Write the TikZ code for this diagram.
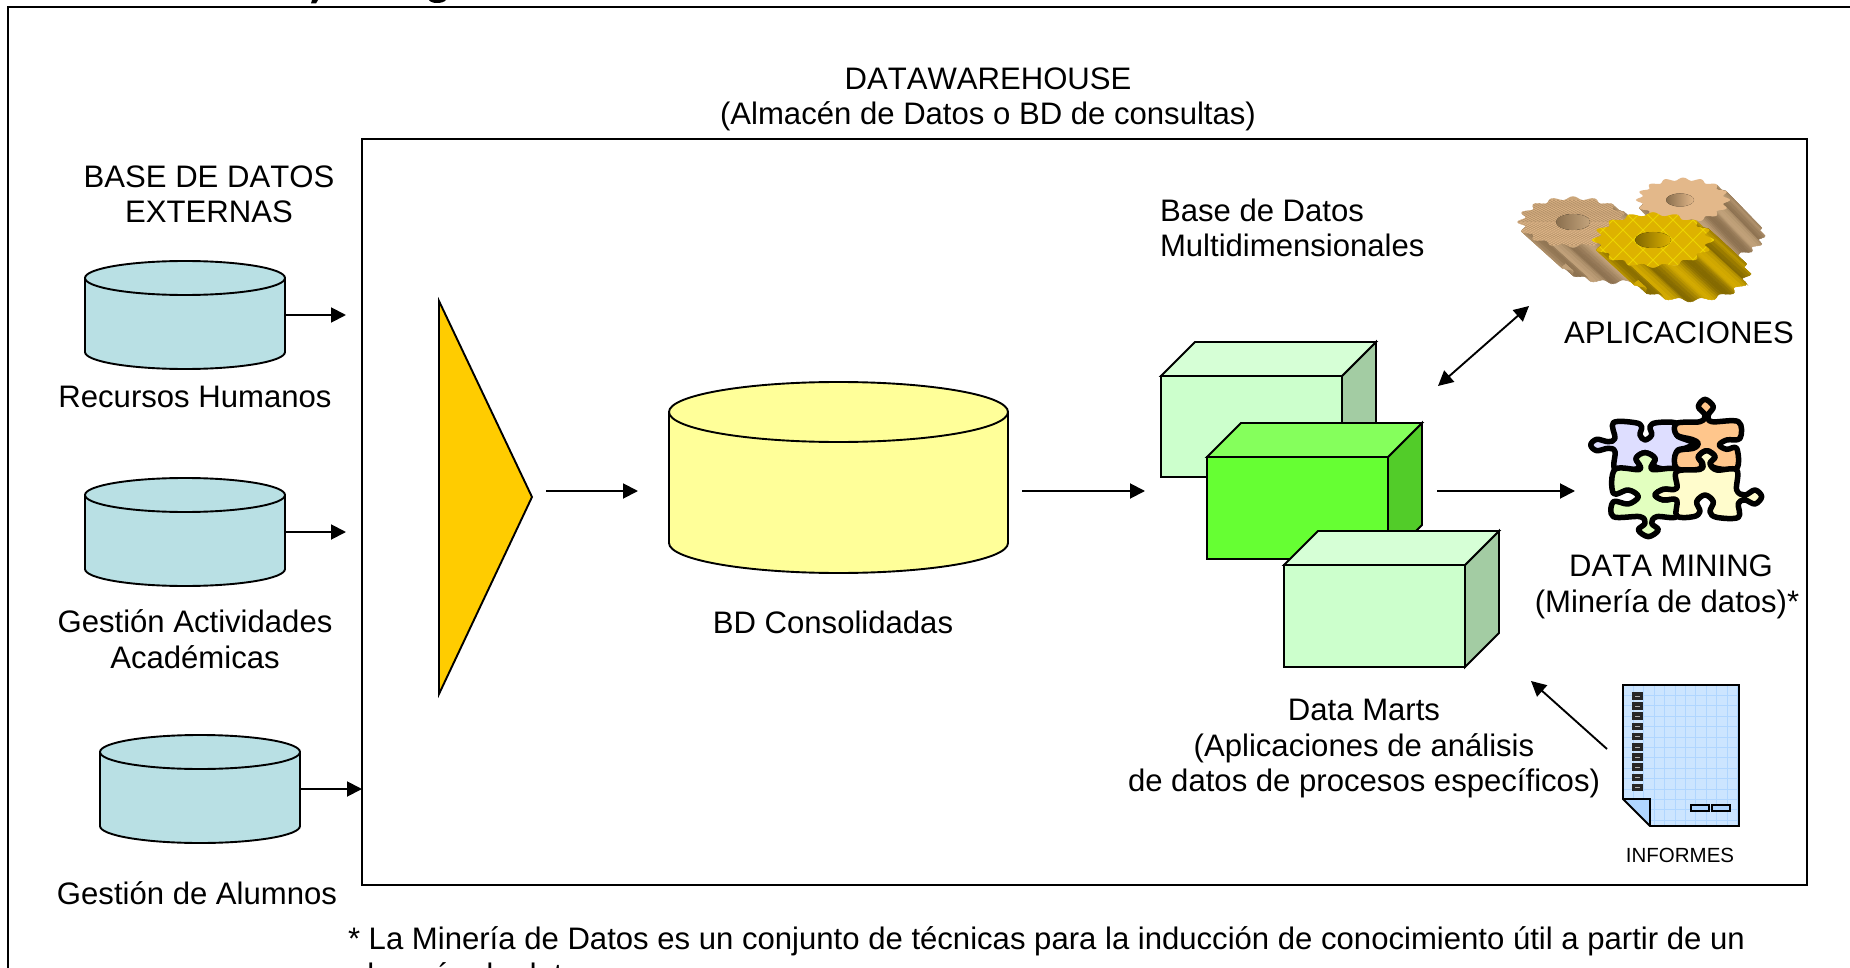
\documentclass[tikz,border=0pt]{standalone}
\usepackage{fontspec}
\setmainfont[Kerning=Off,Ligatures=NoCommon]{Liberation Sans}
\usetikzlibrary{arrows.meta}
\newcommand{\geardraw}[9]{%
 \foreach \t in {-42,-39,...,165}{%
  \pgfmathsetmacro\ra{1+0.07*cos(16*\t)}%
  \pgfmathsetmacro\rb{1+0.07*cos(16*(\t+3))}%
  \pgfmathsetmacro\mx{50+45*sin(8*\t+\t)}%
  \filldraw[draw=#8!\mx!#9,fill=#8!\mx!#9,line width=.5pt]
   ({#1+\ra*#3*cos(\t)},{#2+\ra*#4*sin(\t)}) --
   ({#1+\rb*#3*cos(\t+3)},{#2+\rb*#4*sin(\t+3)}) --
   ({#1+#5+\rb*#3*cos(\t+3)},{#2+#6+\rb*#4*sin(\t+3)}) --
   ({#1+#5+\ra*#3*cos(\t)},{#2+#6+\ra*#4*sin(\t)}) -- cycle;
 }%
 \fill[#7] plot[domain=0:360,samples=145] ({#1+(1+0.07*cos(16*\x))*#3*cos(\x)},{#2+(1+0.07*cos(16*\x))*#4*sin(\x)}) -- cycle;
}
% a drum drawn on the rectangle of node #1: half width #2, end height #3, colour #4
\newcommand{\drum}[4]{%
 \filldraw[line width=1.9pt,fill=#4]
  ([yshift=-#3pt]#1.north west) -- ([yshift=#3pt]#1.south west)
  arc (180:360:#2pt and #3pt) -- ([yshift=-#3pt]#1.north east)
  arc (0:180:#2pt and #3pt) -- cycle;
 \draw[line width=1.9pt] ([yshift=-#3pt]#1.north west) arc (180:360:#2pt and #3pt);
}
\tikzset{
 conn/.style={line width=1.9pt,black,-{Triangle[length=15pt,width=15pt]}},
 biconn/.style={line width=1.9pt,black,{Triangle[length=15pt,width=15pt]}-{Triangle[length=15pt,width=15pt]}},
 lbl/.style={inner sep=0pt,outer sep=0pt,anchor=base,font=\fontsize{31.1}{35}\selectfont},
 lblleft/.style={lbl,anchor=base west},
 smallcyl/.style={inner sep=0pt,outer sep=0pt,minimum width=200pt,minimum height=108pt},
 box/.style={line width=1.9pt,black,line join=miter},
 piece/.style={draw=black,line width=5.5pt,line join=round},
}
\definecolor{cylblue}{HTML}{B9E0E4}
\definecolor{cylyellow}{HTML}{FFFF99}
\definecolor{triang}{HTML}{FFCC00}
\definecolor{boxf}{HTML}{CCFFCC}
\definecolor{boxt}{HTML}{D6FFD6}
\definecolor{boxs}{HTML}{A3CCA3}
\definecolor{gboxf}{HTML}{66FF33}
\definecolor{gboxt}{HTML}{85FF5C}
\definecolor{gboxs}{HTML}{52CC29}
\definecolor{paper}{HTML}{CCE5FF}
\definecolor{papergrid}{HTML}{B0D6FF}
\definecolor{tanA}{HTML}{CBA67A}
\definecolor{tanB}{HTML}{E3B88A}
\definecolor{tanD}{HTML}{8A6F4E}
\definecolor{tanL}{HTML}{C4A47C}
\definecolor{goldF}{HTML}{DDB200}
\definecolor{goldD}{HTML}{806600}
\definecolor{goldL}{HTML}{D8AE00}
\begin{document}
\begin{tikzpicture}[x=1pt,y=-1pt]
\useasboundingbox (0,0) rectangle (1850,968);
\clip (0,0) rectangle (1850,968);
\fill[white] (0,0) rectangle (1850,968);
% cut-off remains of a title above the frame
\fill[black] (312,0) -- (318,0) -- (316,3.5) -- (311,3.5) -- cycle;
\fill[black] (429,0) .. controls (431,4) and (443,4) .. (446,0) -- cycle;
% frame
\draw[line width=2.2pt] (8,975) -- (8,7) -- (1860,7);
\node[draw=black,line width=2pt,inner sep=0pt,outer sep=0pt,minimum width=1445pt,minimum height=746pt] (dw) at (1084.5,512) {};
% external databases
\node[smallcyl] (c1) at (185,315) {};
\node[smallcyl] (c2) at (185,532) {};
\node[smallcyl] (c3) at (200,789) {};
\drum{c1}{100}{17}{cylblue}
\drum{c2}{100}{17}{cylblue}
\drum{c3}{100}{17}{cylblue}
\coordinate (t1) at (346,315);
\coordinate (t2) at (346,532);
\draw[conn] (c1.east) -- (t1);
\draw[conn] (c2.east) -- (t2);
\draw[conn] (c3.east) -- (dw.west |- c3.east);
% funnel
\draw[line width=1.9pt,fill=triang,line join=miter] (439,301) coordinate (fa) -- (532,497) coordinate (fb) -- (439,694) coordinate (fc) -- cycle;
% consolidated database
\node[inner sep=0pt,outer sep=0pt,minimum width=339pt,minimum height=191pt] (bd) at (838.5,477.5) {};
\drum{bd}{169.5}{30}{cylyellow}
\coordinate (a1) at (546,491);
\coordinate (a2) at (638,491);
\coordinate (a3) at (1022,491);
\coordinate (a4) at (1145,491);
\draw[conn] (a1) -- (a2);
\draw[conn] (a3) -- (a4);
% data marts
\foreach \l/\r/\tp/\b/\cf/\ct/\cs in {1161/1342/376/477/boxf/boxt/boxs,1207/1388/457/559/gboxf/gboxt/gboxs,1284/1465/565/667/boxf/boxt/boxs}{
 \filldraw[box,fill=\cs] (\r,\tp) -- (\r+34,\tp-34) -- (\r+34,\b-34) -- (\r,\b) -- cycle;
 \filldraw[box,fill=\ct] (\l,\tp) -- (\l+34,\tp-34) -- (\r+34,\tp-34) -- (\r,\tp) -- cycle;
 \filldraw[box,fill=\cf] (\l,\tp) rectangle (\r,\b);
}
\coordinate (b1) at (1437,491);
\coordinate (b2) at (1575,491);
\coordinate (d1) at (1438,386);
\coordinate (d2) at (1529,306);
\coordinate (r1) at (1607,749);
\coordinate (r2) at (1531,681);
\draw[conn] (b1) -- (b2);
\draw[biconn] (d1) -- (d2);
\draw[conn] (r1) -- (r2);
% gears
\geardraw{1573}{222}{52}{24}{40}{36}{tanA}{tanD}{tanL}
\begin{scope}
 \clip plot[domain=0:360,samples=145] ({1573+(1+0.07*cos(16*\x))*52*cos(\x)},{222+(1+0.07*cos(16*\x))*24*sin(\x)}) -- cycle;
 \foreach \k in {-80,-76,...,80}{
  \draw[tanD!45!tanA,line width=.6pt] (1573+\k-40,200) -- (1573+\k+40,245);
  \draw[tanB,line width=.6pt] (1573+\k+40,200) -- (1573+\k-40,245);
 }
\end{scope}
\fill[left color=tanD,right color=tanL] (1573,222) ellipse (17pt and 8pt);
\geardraw{1683}{200}{44}{21}{35}{36}{tanB}{tanD}{tanL}
\fill[left color=tanD,right color=tanB] (1680,200) ellipse (14pt and 6.5pt);
\geardraw{1653}{240}{57}{26}{37}{34}{goldF}{goldD}{goldL}
\begin{scope}
 \clip plot[domain=0:360,samples=145] ({1653+(1+0.07*cos(16*\x))*57*cos(\x)},{240+(1+0.07*cos(16*\x))*26*sin(\x)}) -- cycle;
 \foreach \k in {-100,-80,...,100}{
  \draw[goldF!55!yellow,line width=.8pt] (1653+\k-30,210) -- (1653+\k+30,270);
  \draw[goldF!55!yellow,line width=.8pt] (1653+\k+30,210) -- (1653+\k-30,270);
 }
\end{scope}
\fill[left color=goldD,right color=goldF] (1653,240) ellipse (18pt and 8pt);
% puzzle
\begin{scope}[shift={(1560,380)},x=.3333pt,y=-.3333pt]
\draw[piece,fill=blue!13] plot[smooth cycle,tension=.6] coordinates {(160,128)(225,128)(245,140)(240,165)(255,180)(275,165)(270,140)(290,128)(350,130)(350,165)(375,178)(405,190)(375,205)(350,215)(350,268)(300,265)(280,255)(285,235)(255,218)(228,235)(238,255)(225,268)(165,268)(165,215)(145,205)(110,212)(92,195)(110,178)(145,185)(165,175)};
\draw[piece,fill=orange!45] plot[smooth cycle,tension=.6] coordinates {(350,130)(420,125)(435,105)(415,80)(435,58)(460,80)(445,105)(455,125)(535,125)(540,175)(500,180)(478,195)(500,208)(530,205)(530,265)(470,265)(450,250)(465,230)(440,212)(415,230)(425,250)(415,268)(350,265)(350,215)(400,205)(415,190)(395,178)(350,165)};
\draw[piece,fill=green!45!yellow!25] plot[smooth cycle,tension=.6] coordinates {(165,268)(240,268)(228,235)(255,218)(285,235)(275,268)(350,268)(350,325)(310,328)(285,345)(310,360)(350,360)(350,410)(290,410)(275,430)(295,450)(265,470)(235,450)(255,430)(240,410)(160,410)(160,365)(205,372)(235,350)(205,330)(160,340)};
\draw[piece,fill=yellow!20] plot[smooth cycle,tension=.6] coordinates {(350,275)(420,268)(428,250)(415,230)(440,212)(465,230)(450,250)(470,270)(530,270)(530,330)(555,345)(585,330)(605,350)(585,372)(555,360)(535,370)(535,412)(470,412)(450,395)(460,365)(435,345)(410,365)(420,395)(400,410)(350,408)(350,360)(310,360)(285,345)(310,328)(350,325)};
\end{scope}
% report
\begin{scope}
 \clip (1623,685) -- (1739,685) -- (1739,826) -- (1650,826) -- (1623,799) -- cycle;
 \fill[paper] (1623,685) rectangle (1739,826);
 \foreach \k in {0,...,11} \draw[papergrid,line width=.9pt] (1623+10.4*\k,685) -- (1623+10.4*\k,826);
 \foreach \k in {0,...,13} \draw[papergrid,line width=.9pt] (1623,685+10.4*\k) -- (1739,685+10.4*\k);
\end{scope}
\fill[papergrid] (1623,799) -- (1650,799) -- (1650,826) -- cycle;
\draw[line width=1.9pt,line join=miter] (1623,685) -- (1739,685) -- (1739,826) -- (1650,826) -- (1623,799) -- cycle;
\draw[line width=1.9pt,line join=miter] (1623,799) -- (1650,799) -- (1650,826);
\foreach \k in {0,...,9} {
 \fill[black!85] (1632,692+10.2*\k) rectangle (1643,699.5+10.2*\k);
 \fill[white!70!black] (1635,695.5+10.2*\k) rectangle (1640,696.5+10.2*\k);
}
\draw[line width=1.3pt,fill=papergrid] (1691,805) rectangle (1709,811);
\draw[line width=1.3pt,fill=papergrid] (1712,805) rectangle (1730,811);
% labels
\node[lbl] (t1a) at (988,90) {DATAWAREHOUSE};
\node[lbl] (t1b) at (988,125) {(Almacén de Datos o BD de consultas)};
\node[lbl] (t2a) at (209,188) {BASE DE DATOS};
\node[lbl] (t2b) at (209,223) {EXTERNAS};
\node[lbl] (t3) at (195,407) {Recursos Humanos};
\node[lbl] (t4a) at (195,632) {Gestión Actividades};
\node[lbl] (t4b) at (195,668) {Académicas};
\node[lbl] (t5) at (197,904) {Gestión de Alumnos};
\node[lbl] (t6) at (833,633) {BD Consolidadas};
\node[lblleft] (t7a) at (1160,222) {Base de Datos};
\node[lblleft] (t7b) at (1160,257) {Multidimensionales};
\node[lbl] (t8) at (1679,343) {APLICACIONES};
\node[lbl] (t9a) at (1671,576) {DATA MINING};
\node[lbl] (t9b) at (1667,612) {(Minería de datos)*};
\node[lbl] (t10a) at (1364,720) {Data Marts};
\node[lbl] (t10b) at (1364,756) {(Aplicaciones de análisis};
\node[lbl] (t10c) at (1364,791) {de datos de procesos específicos)};
\node[lbl,font=\fontsize{20.5}{24}\selectfont] (t11) at (1680,862) {INFORMES};
\node[lblleft] (t12a) at (348,949) {* La Minería de Datos es un conjunto de técnicas para la inducción de conocimiento útil a partir de un};
\node[lblleft] (t12b) at (350,985) {almacén de datos};
\end{tikzpicture}
\end{document}
